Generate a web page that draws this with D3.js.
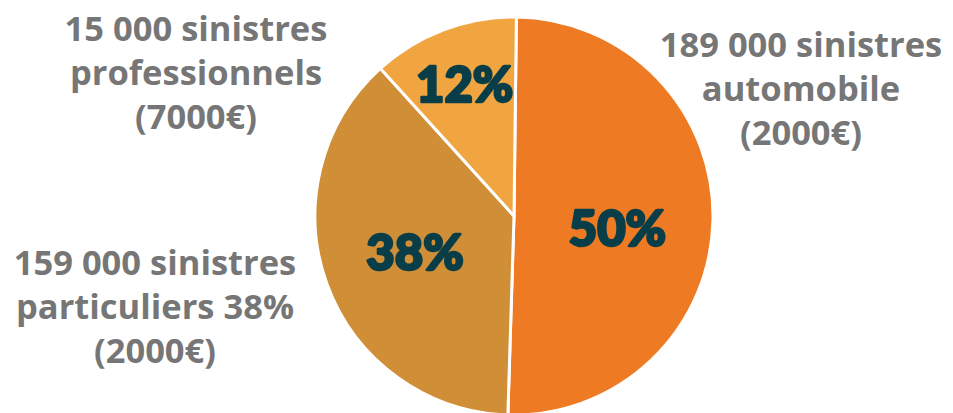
<!DOCTYPE html>
<html>
<head>
<meta charset="utf-8">
<script src="https://cdn.jsdelivr.net/npm/d3@7"></script>
<style>
  html, body { margin: 0; padding: 0; background: #fff; }
  svg { display: block; }
</style>
</head>
<body>
<div id="chart"></div>
<script>
// data
const categories = ["automobile", "particuliers", "professionnels"];
const shares = [50.3, 37.8, 11.9];
const pctLabels = ["50%", "38%", "12%"];
const outerLabels = [
  ["189 000 sinistres", "automobile", "(2000€)"],
  ["159 000 sinistres", "particuliers 38%", "(2000€)"],
  ["15 000 sinistres", "professionnels", "(7000€)"]
];
const colors = ["#EE7A23", "#D08E37", "#F0A541"];

let width = 953,
  height = 413;

let cx = 514, cy = 216, radius = 199;

// where the outside labels sit (centre x, first baseline)
let outerPos = [[801, 57], [155, 275], [196, 41]];
let lineGap = 44;
// how far out the percentage sits, as part of the radius, plus a small nudge down
let pctRadius = [0.52, 0.53, 0.70];
let pctNudge = [10, 0, -1];

let svg = d3.select("#chart").append("svg")
  .attr("width", width)
  .attr("height", height)
  .attr("viewBox", [0, 0, width, height]);

let pie = d3.pie()
  .sort(null)
  .startAngle(0.012)
  .endAngle(0.012 + 2 * Math.PI)
  .value(d => d);

let arcs = pie(shares);

let arc = d3.arc().innerRadius(0).outerRadius(radius);

let g = svg.append("g").attr("transform", `translate(${cx},${cy})`);

g.selectAll("path")
  .data(arcs)
  .enter()
  .append("path")
  .attr("d", arc)
  .attr("fill", (d, i) => colors[i])
  .attr("stroke", "#fff")
  .attr("stroke-width", 3)
  .attr("stroke-linejoin", "round");

// the reference uses a black weight, so thicken the bold with a stroke
g.selectAll("text.pct")
  .data(arcs)
  .enter()
  .append("text")
  .attr("class", "pct")
  .attr("transform", (d, i) => {
    let a = (d.startAngle + d.endAngle) / 2;
    let r = radius * pctRadius[i];
    return `translate(${Math.sin(a) * r},${-Math.cos(a) * r + pctNudge[i]})`;
  })
  .attr("text-anchor", "middle")
  .attr("dy", "0.36em")
  .attr("font-family", "Lato, Inter, 'Noto Sans', sans-serif")
  .attr("font-weight", 900)
  .attr("font-size", "49px")
  .attr("fill", "#093E49")
  .attr("stroke", "#093E49")
  .attr("stroke-width", 2.6)
  .attr("stroke-linejoin", "round")
  .text((d, i) => pctLabels[i]);

let labels = svg.append("g")
  .selectAll("text")
  .data(outerLabels)
  .enter()
  .append("text")
  .attr("text-anchor", "middle")
  .attr("font-family", "'Open Sans', 'Noto Sans', sans-serif")
  .attr("font-weight", 700)
  .attr("font-size", "34.5px")
  .attr("fill", "#767676");

labels.selectAll("tspan")
  .data((d, i) => d.map((t, j) => ({ t, x: outerPos[i][0], y: outerPos[i][1] + j * lineGap })))
  .enter()
  .append("tspan")
  .attr("x", d => d.x)
  .attr("y", d => d.y)
  .text(d => d.t);
</script>
</body>
</html>
